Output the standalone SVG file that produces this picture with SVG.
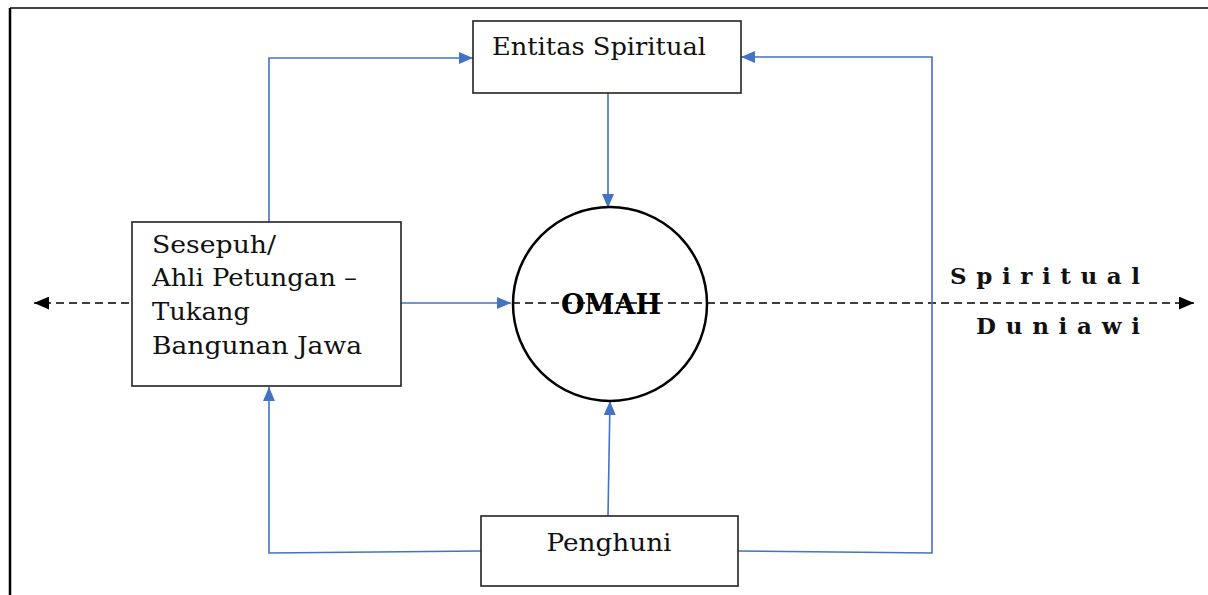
<svg xmlns="http://www.w3.org/2000/svg" width="1208" height="595" viewBox="0 0 1208 595">
  <style>
    .box { fill: #ffffff; stroke: #222222; stroke-width: 1.6; }
    .lbl { font-family: "DejaVu Serif", "Liberation Serif", serif; font-size: 24px; fill: #111111; }
    .conn { fill: none; stroke: #4472C4; stroke-width: 1.6; }
    .dash { fill: none; stroke: #000000; stroke-width: 1.4; stroke-dasharray: 8 5; }
    .axis { font-family: "DejaVu Serif", "Liberation Serif", serif; font-size: 23px; font-weight: bold; fill: #111111; }
  </style>
  <defs>
    <marker id="ab" viewBox="0 0 14 12" refX="14" refY="6" markerWidth="14" markerHeight="12" markerUnits="userSpaceOnUse" orient="auto">
      <path d="M0,0 L14,6 L0,12 Z" fill="#4472C4"/>
    </marker>
    <marker id="ak" viewBox="0 0 14 12" refX="14" refY="6" markerWidth="15" markerHeight="13" markerUnits="userSpaceOnUse" orient="auto">
      <path d="M0,0 L14,6 L0,12 Z" fill="#000000"/>
    </marker>
  </defs>
  <rect x="0" y="0" width="1208" height="595" fill="#ffffff"/>
  <g id="frame">
    <line x1="10" y1="8" x2="1208" y2="8" stroke="#444444" stroke-width="2"/>
    <line x1="10" y1="8" x2="10" y2="595" stroke="#000000" stroke-width="2.5"/>
  </g>
  <g id="connectors">
    <path class="dash" d="M402,303 H34" marker-end="url(#ak)"/>
    <path class="dash" d="M512,303 H1194" marker-end="url(#ak)"/>
    <path class="conn" d="M269,222 V58 H473" marker-end="url(#ab)"/>
    <path class="conn" d="M738,551 L932,553 V57 H741" marker-end="url(#ab)"/>
    <path class="conn" d="M608,93 V208" marker-end="url(#ab)"/>
    <path class="conn" d="M401,303 H511" marker-end="url(#ab)"/>
    <path class="conn" d="M608,516 L610,401" marker-end="url(#ab)"/>
    <path class="conn" d="M481,551 L269,553 V387" marker-end="url(#ab)"/>
  </g>
  <g id="entitas">
    <rect class="box" x="473" y="21" width="268" height="72"/>
    <text class="lbl" x="492" y="55" textLength="214" lengthAdjust="spacingAndGlyphs">Entitas Spiritual</text>
  </g>
  <g id="sesepuh">
    <rect class="box" x="132" y="222" width="269" height="164"/>
    <text class="lbl" x="152" y="253" textLength="124" lengthAdjust="spacingAndGlyphs">Sesepuh/</text>
    <text class="lbl" x="152" y="286" textLength="205" lengthAdjust="spacingAndGlyphs">Ahli Petungan –</text>
    <text class="lbl" x="152" y="320" textLength="98" lengthAdjust="spacingAndGlyphs">Tukang</text>
    <text class="lbl" x="152" y="354" textLength="210" lengthAdjust="spacingAndGlyphs">Bangunan Jawa</text>
  </g>
  <g id="omah">
    <circle cx="610" cy="304" r="97" fill="none" stroke="#000000" stroke-width="2.5"/>
    <text x="611" y="314" text-anchor="middle" font-family="DejaVu Serif, Liberation Serif, serif" font-size="27" font-weight="bold" fill="#000000" textLength="100" lengthAdjust="spacingAndGlyphs">OMAH</text>
  </g>
  <g id="penghuni">
    <rect class="box" x="481" y="516" width="257" height="70"/>
    <text class="lbl" x="609" y="551" text-anchor="middle" textLength="125" lengthAdjust="spacingAndGlyphs">Penghuni</text>
  </g>
  <g id="axis-labels">
    <text class="axis" x="950" y="284" textLength="190" lengthAdjust="spacing">Spiritual</text>
    <text class="axis" x="976" y="334" textLength="164" lengthAdjust="spacing">Duniawi</text>
  </g>
</svg>
